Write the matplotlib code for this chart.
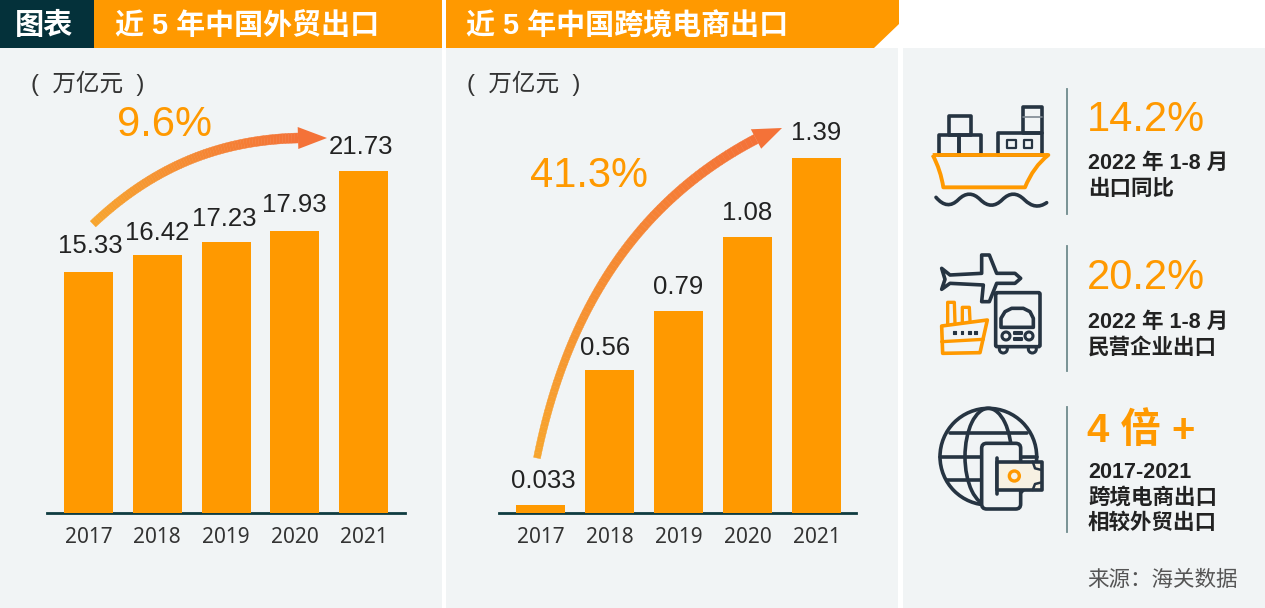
import numpy as np
import matplotlib
matplotlib.use("Agg")
import matplotlib.pyplot as plt
from matplotlib.collections import PolyCollection
from matplotlib.patches import Circle, Polygon, Rectangle, FancyBboxPatch, PathPatch, Ellipse
from matplotlib.path import Path

plt.rcParams["font.family"] = ["Liberation Sans", "Noto Sans CJK SC", "DejaVu Sans"]

years = ["2017", "2018", "2019", "2020", "2021"]
trade_values = [15.33, 16.42, 17.23, 17.93, 21.73]
ecom_values = [0.033, 0.56, 0.79, 1.08, 1.39]
trade_labels = ["15.33", "16.42", "17.23", "17.93", "21.73"]
ecom_labels = ["0.033", "0.56", "0.79", "1.08", "1.39"]

# small label shifts in points, the source does not centre them exactly
trade_nudge = [(1, 1), (0, -2), (-1, -1), (0, 1), (-2, 0)]
ecom_nudge = [(2, -1), (-3, -2), (0, 0), (0, 0), (0, 0)]

ORANGE = "#FF9900"
DARK = "#263442"
PANEL = "#F1F4F5"
W, H = 1265, 608

fig = plt.figure(figsize=(12.65, 6.08), dpi=100, facecolor="white")

# background layer in pixel coordinates
bg = fig.add_axes([0, 0, 1, 1])
bg.set_xlim(0, W)
bg.set_ylim(H, 0)
bg.axis("off")

for x0, x1 in [(0, 442), (446, 898), (903, 1265)]:
    bg.add_patch(Rectangle((x0, 48), x1 - x0, H - 48, fc=PANEL, ec="none"))
bg.add_patch(Rectangle((0, 0), 94, 48, fc="#04313A", ec="none"))
bg.add_patch(Rectangle((94, 0), 348, 48, fc=ORANGE, ec="none"))
bg.add_patch(Polygon([(446, 0), (899, 0), (899, 24), (874, 48), (446, 48)], fc=ORANGE, ec="none"))

bg.text(44, 26, "图表", color="white", fontsize=21, fontweight="bold", ha="center", va="center")
bg.text(115, 26, "近 5 年中国外贸出口", color="white", fontsize=20.9, fontweight="bold", va="center")
bg.text(466, 26, "近 5 年中国跨境电商出口", color="white", fontsize=20.9, fontweight="bold", va="center")
bg.text(31, 83, "(  万亿元  )", color="#333333", fontsize=17, va="center")
bg.text(467, 83, "(  万亿元  )", color="#333333", fontsize=17, va="center")
bg.text(117, 136, "9.6%", color=ORANGE, fontsize=30, va="baseline")
bg.text(530, 187, "41.3%", color=ORANGE, fontsize=30, va="baseline")


def bar_axes(x0, x1, centers_first, step, ymax_px, per_unit, values, labels, nudge):
    ax = fig.add_axes([x0 / W, (H - 513) / H, (x1 - x0) / W, (513 - ymax_px) / H])
    ax.patch.set_alpha(0)
    bars = ax.bar(range(5), values, width=49 / step, color=ORANGE, zorder=3)
    ax.set_xlim((x0 - centers_first) / step, (x1 - centers_first) / step)
    ax.set_ylim(0, (513 - ymax_px) / per_unit)
    for s in ["top", "left", "right"]:
        ax.spines[s].set_visible(False)
    ax.spines["bottom"].set_color("#0F3B40")
    ax.spines["bottom"].set_linewidth(2)
    ax.set_yticks([])
    ax.set_xticks(range(5), years, fontsize=15, color="#333333", family="Noto Sans")
    ax.tick_params(axis="x", length=0, pad=10)
    anns = ax.bar_label(bars, labels=labels, padding=9, fontsize=18.5, color="#222222")
    for ann, (dx, dy) in zip(anns, nudge):
        ann.xyann = (dx, 9 + dy)
    return ax


ax1 = bar_axes(47, 405, 88.5, 68.75, 60, 342 / 21.73, trade_values, trade_labels, trade_nudge)
ax2 = bar_axes(499, 856, 540.5, 69, 60, 355 / 1.39, ecom_values, ecom_labels, ecom_nudge)

# overlay for arrows and icons
ov = fig.add_axes([0, 0, 1, 1], zorder=5)
ov.set_xlim(0, W)
ov.set_ylim(H, 0)
ov.axis("off")
ov.patch.set_alpha(0)


def grad_arrow(p0, p1, p2, p3, tip, half_head, w0, w1):
    p = np.array([p0, p1, p2, p3], float)
    t = np.linspace(0, 1, 80)[:, None]
    pts = (1 - t) ** 3 * p[0] + 3 * (1 - t) ** 2 * t * p[1] + 3 * (1 - t) * t ** 2 * p[2] + t ** 3 * p[3]
    d = np.gradient(pts, axis=0)
    d /= np.linalg.norm(d, axis=1)[:, None]
    n = np.c_[-d[:, 1], d[:, 0]]
    w = (w0 + (w1 - w0) * t) / 2
    a, b = pts + n * w, pts - n * w
    c0, c1 = np.array(matplotlib.colors.to_rgb("#F7A52E")), np.array(matplotlib.colors.to_rgb("#F47238"))
    polys = [[a[i], a[i + 1], b[i + 1], b[i]] for i in range(79)]
    cols = [c0 + (c1 - c0) * i / 78 for i in range(79)]
    ov.add_collection(PolyCollection(polys, facecolors=cols, edgecolors=cols, linewidths=0.3))
    ov.add_patch(Polygon([tip, pts[-1] + n[-1] * half_head, pts[-1] - n[-1] * half_head], fc="#F47238", ec="none"))


grad_arrow((93, 224), (150, 170), (215, 140), (298, 138), (327, 138), 11, 8, 10)
grad_arrow((537, 458), (565, 320), (630, 205), (756, 139), (782, 128), 11, 7, 10)


def zpt(origin, pts):
    return [(origin[0] + x / 3, origin[1] + y / 3) for x, y in pts]


def line(origin, pts, color=DARK, lw=2.6, closed=False, fc="none", z=6):
    ov.add_patch(Polygon(zpt(origin, pts), closed=closed, fc=fc, ec=color, lw=lw, joinstyle="round", capstyle="round", zorder=z))


def rect(origin, x0, y0, x1, y1, color=DARK, lw=2.6, fc="none", z=6):
    line(origin, [(x0, y0), (x1, y0), (x1, y1), (x0, y1)], color, lw, True, fc, z)


# ship icon
o = (900, 60)
rect(o, 147, 168, 212, 225)
rect(o, 117, 225, 178, 285)
rect(o, 178, 225, 243, 285)
rect(o, 295, 218, 425, 285)
rect(o, 370, 142, 425, 218)
line(o, [(370, 172), (425, 172)], "#7d8791", 1.2)
rect(o, 322, 240, 347, 265, lw=1.6)
rect(o, 372, 240, 397, 265, lw=1.6)
hull = Path(zpt(o, [(98, 285), (445, 285), (400, 320), (375, 382), (130, 382), (122, 330), (98, 285)]),
            [Path.MOVETO, Path.LINETO, Path.CURVE3, Path.CURVE3, Path.LINETO, Path.CURVE3, Path.CURVE3])
ov.add_patch(PathPatch(hull, fc="none", ec=ORANGE, lw=2.8, joinstyle="round", zorder=7))
wave_pts = zpt(o, [(108, 412), (142, 452), (175, 419), (208, 386), (241, 419), (274, 452), (307, 419),
                   (340, 386), (373, 419), (406, 452), (440, 428)])
wave_codes = [Path.MOVETO] + [Path.CURVE3] * 10
ov.add_patch(PathPatch(Path(wave_pts, wave_codes), fc="none", ec=DARK, lw=2.6, capstyle="round"))

# plane, truck and small ship
o = (900, 240)
line(o, [(125, 85), (150, 105), (245, 100), (245, 45), (268, 45), (290, 100), (345, 100), (362, 115), (345, 130),
         (290, 130), (268, 185), (245, 185), (250, 135), (150, 130), (125, 148), (135, 118)], closed=True)
ov.add_patch(FancyBboxPatch((900 + 287 / 3, 240 + 158 / 3), 133 / 3, 162 / 3, boxstyle="round,pad=0,rounding_size=1.5",
                            fc=PANEL, ec=DARK, lw=2.6, zorder=6))
line(o, [(303, 262), (303, 235), (315, 215), (335, 205), (370, 205), (390, 215), (400, 235), (400, 262)], closed=True, z=7)
for cx in [318, 387]:
    ov.add_patch(Circle((900 + cx / 3, 240 + 288 / 3), 4, fc="none", ec=DARK, lw=2.2, zorder=7))
for cx in [310, 397]:
    ov.add_patch(Circle((900 + cx / 3, 240 + 327 / 3), 4, fc="none", ec=DARK, lw=2.2, zorder=5))
rect(o, 343, 275, 365, 283, lw=1.5, fc=DARK, z=7)
rect(o, 343, 295, 365, 300, lw=1.5, fc=DARK, z=7)
line(o, [(125, 258), (262, 240), (240, 338), (128, 340)], ORANGE, 2.6, True)
line(o, [(125, 305), (250, 298)], ORANGE, 2.4)
line(o, [(143, 252), (143, 187), (163, 187), (165, 250)], ORANGE, 2.4)
line(o, [(187, 246), (187, 202), (208, 202), (210, 242)], ORANGE, 2.4)
for dx in [160, 182, 204, 222]:
    rect(o, dx, 274, dx + 8, 282, lw=0.8, fc=DARK)

# globe and phone
o = (900, 390)
cx, cy = 900 + 265 / 3, 390 + 200 / 3
ov.add_patch(Circle((cx, cy), 145 / 3, fc="none", ec=DARK, lw=2.6))
ov.add_patch(Ellipse((cx, cy), 140 / 3, 290 / 3, fc="none", ec=DARK, lw=2.6))
line(o, [(150, 128), (380, 128)])
line(o, [(120, 200), (410, 200)])
line(o, [(140, 270), (390, 270)])
ov.add_patch(FancyBboxPatch((900 + 245 / 3, 390 + 160 / 3), 117 / 3, 197 / 3, boxstyle="round,pad=0,rounding_size=5",
                            fc=PANEL, ec=DARK, lw=2.6, zorder=7))
line(o, [(290, 205), (290, 312)], z=8)
line(o, [(290, 215), (425, 215), (425, 300), (290, 300)], fc="#F7F1E2", closed=True, z=8)
line(o, [(398, 215), (405, 235), (425, 240)], lw=1.8, z=9)
line(o, [(398, 300), (405, 282), (425, 277)], lw=1.8, z=9)
ov.add_patch(Circle((900 + 343 / 3, 390 + 258 / 3), 5, fc="none", ec=ORANGE, lw=2.4, zorder=9))

# dividers and right hand text
for y0, y1 in [(89, 214), (246, 371), (407, 532)]:
    ov.plot([1067, 1067], [y0, y1], color="#6F8A8C", lw=1.3)

ov.text(1087, 131, "14.2%", color=ORANGE, fontsize=30, va="baseline")
ov.text(1087, 289, "20.2%", color=ORANGE, fontsize=30, va="baseline")
ov.text(1087, 442, "4 倍 +", color=ORANGE, fontsize=29, fontweight="bold", va="baseline")
side_text = [(163, "2022 年 1-8 月"), (189, "出口同比"), (322, "2022 年 1-8 月"), (348, "民营企业出口"),
             (472, "2017-2021"), (498, "跨境电商出口"), (523, "相较外贸出口")]
for y, s in side_text:
    ov.text(1088, y, s, color="#222222", fontsize=15.5, fontweight="bold", va="center")
ov.text(1087, 580, "来源：海关数据", color="#555555", fontsize=15.5, va="center")

fig.savefig("out.png", dpi=100)
